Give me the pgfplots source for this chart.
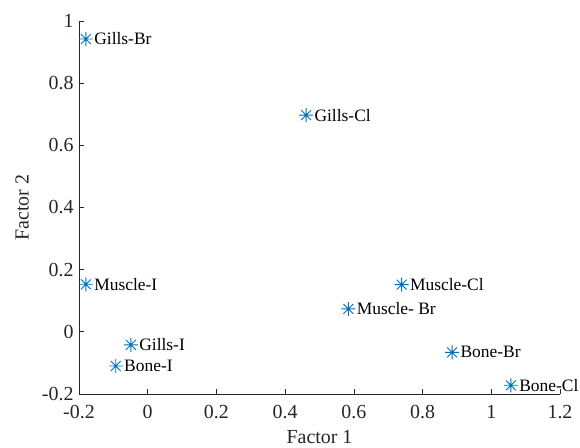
\documentclass[border=0pt]{standalone}
\usepackage{fontspec}
\setmainfont{Liberation Serif}
\usepackage{pgfplots}
\pgfplotsset{compat=1.18}
\definecolor{mblue}{rgb}{0,0.447,0.741}
\definecolor{axgray}{rgb}{0.15,0.15,0.15}
\pgfdeclareplotmark{mstar}{%
  \pgfpathmoveto{\pgfqpoint{-\pgfplotmarksize}{0pt}}%
  \pgfpathlineto{\pgfqpoint{\pgfplotmarksize}{0pt}}%
  \pgfpathmoveto{\pgfqpoint{0pt}{-\pgfplotmarksize}}%
  \pgfpathlineto{\pgfqpoint{0pt}{\pgfplotmarksize}}%
  \pgfpathmoveto{\pgfqpoint{-.7071\pgfplotmarksize}{-.7071\pgfplotmarksize}}%
  \pgfpathlineto{\pgfqpoint{.7071\pgfplotmarksize}{.7071\pgfplotmarksize}}%
  \pgfpathmoveto{\pgfqpoint{-.7071\pgfplotmarksize}{.7071\pgfplotmarksize}}%
  \pgfpathlineto{\pgfqpoint{.7071\pgfplotmarksize}{-.7071\pgfplotmarksize}}%
  \pgfusepathqstroke}
\begin{document}
\begin{tikzpicture}
\begin{axis}[
  scale only axis, width=481bp, height=373bp,
  xmin=-0.2, xmax=1.2, ymin=-0.2, ymax=1,
  axis x line=bottom, axis y line=left,
  axis line style={-, axgray, line width=0.7bp},
  tick align=inside, major tick length=5bp,
  tick style={axgray, line width=0.7bp},
  xtick={-0.2,0,0.2,0.4,0.6,0.8,1,1.2},
  xticklabels={-0.2,0,0.2,0.4,0.6,0.8,1,1.2},
  ytick={-0.2,0,0.2,0.4,0.6,0.8,1},
  yticklabels={-0.2,0,0.2,0.4,0.6,0.8,1},
  ticklabel style={font=\fontsize{20}{22}\selectfont, text=axgray},
  xticklabel style={yshift=-8bp},
  yticklabel style={xshift=-2bp},
  xlabel={Factor 1}, ylabel={Factor 2},
  label style={font=\fontsize{20}{22}\selectfont, text=axgray},
  xlabel style={at={(axis description cs:0.5,-0.115)}, anchor=center},
  ylabel style={at={(axis description cs:-0.118,0.5)}, anchor=center},
  clip=false,
]
\addplot[only marks, mark=mstar, mark size=7bp, mblue, line width=0.9bp,
  point meta=explicit symbolic,
  nodes near coords,
  nodes near coords style={anchor=west, xshift=7bp, inner sep=1bp, text=black,
    font=\fontsize{17.5}{19}\selectfont},
] coordinates {
  (-0.180,0.942) [Gills-Br]
  (0.461,0.697) [Gills-Cl]
  (0.739,0.152) [Muscle-Cl]
  (0.584,0.074) [Muscle- Br]
  (0.886,-0.066) [Bone-Br]
  (1.057,-0.172) [Bone-Cl]
  (-0.180,0.153) [Muscle-I]
  (-0.049,-0.042) [Gills-I]
  (-0.093,-0.110) [Bone-I]
};
\end{axis}
\pgfresetboundingbox
\useasboundingbox (-79bp,-54bp) rectangle (501bp,394bp);
\end{tikzpicture}
\end{document}
